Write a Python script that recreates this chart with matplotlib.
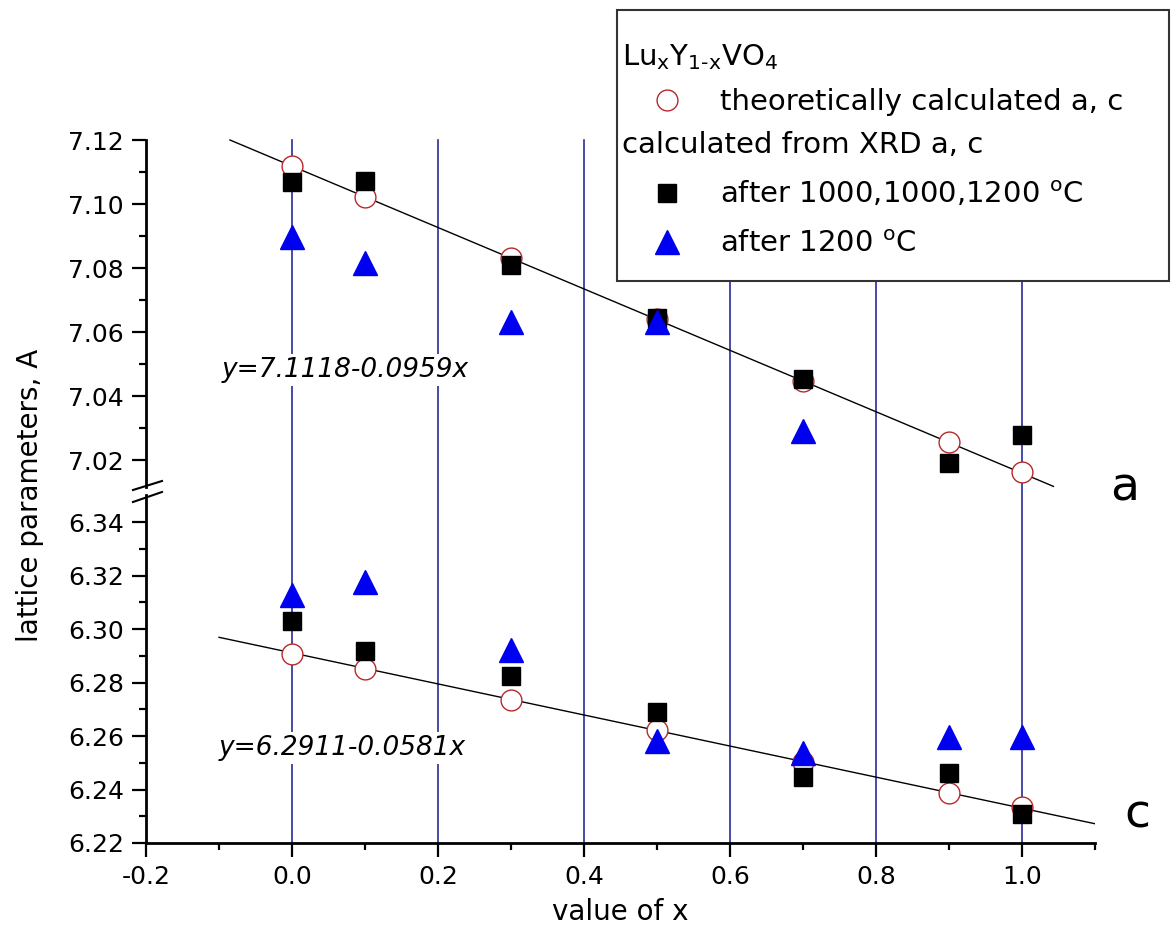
import numpy as np
import matplotlib
matplotlib.use("Agg")
import matplotlib.pyplot as plt
from matplotlib.patches import Rectangle

#DATA

x_vals = [0.0, 0.1, 0.3, 0.5, 0.7, 0.9, 1.0]
x_tri_a = [0.0, 0.1, 0.3, 0.5, 0.7]

# lattice parameter a
a_theory = [7.1118, 7.1022, 7.0832, 7.0640, 7.0448, 7.0258, 7.0164]
a_xrd_1 = [7.1070, 7.1073, 7.0809, 7.0645, 7.0452, 7.0192, 7.0278]
a_xrd_2 = [7.0896, 7.0815, 7.0630, 7.0632, 7.0290]

# lattice parameter c
c_theory = [6.2907, 6.2849, 6.2735, 6.2624, 6.2504, 6.2388, 6.2336]
c_xrd_1 = [6.3030, 6.2919, 6.2824, 6.2690, 6.2446, 6.2461, 6.2308]
c_xrd_2 = [6.3128, 6.3175, 6.2921, 6.2582, 6.2538, 6.2597, 6.2596]

# linear fits (end points)
fit_a_x = [-0.085, 1.043]
fit_a_y = [7.1200, 7.0118]
fit_c_x = [-0.1, 1.1]
fit_c_y = [6.2969, 6.2272]

grid_x = [0.0, 0.2, 0.4, 0.6, 0.8, 1.0]

eq_a = "y=7.1118-0.0959x"
eq_c = "y=6.2911-0.0581x"

#STYLE

plt.rcParams['font.family'] = ['DejaVu Sans']
plt.rcParams['mathtext.default'] = 'regular'

W, H = 1171, 941
fig = plt.figure(figsize=(W / 100, H / 100), dpi=100)

x0, x1 = 146, 1095
ax_hi = fig.add_axes([x0 / W, 1 - 487 / H, (x1 - x0) / W, (487 - 140) / H])
ax_lo = fig.add_axes([x0 / W, 1 - 843 / H, (x1 - x0) / W, (843 - 495) / H])

circ_kw = dict(ls='none', marker='o', ms=15, mfc='white', mec='#b8282c', mew=1.0, zorder=4)
sq_kw = dict(ls='none', marker='s', ms=13.5, mfc='black', mec='black', zorder=5)
tri_kw = dict(ls='none', marker='^', ms=17, mfc='#0000f0', mec='#0000f0', zorder=6)
grid_col = '#2a2a9a'

for ax in (ax_hi, ax_lo):
    ax.set_xlim(-0.2, 1.1)
    for s in ('top', 'right'):
        ax.spines[s].set_visible(False)
    ax.spines['left'].set_linewidth(2.0)
    ax.spines['bottom'].set_linewidth(2.0)
    ax.set_xticks(np.arange(-0.2, 1.11, 0.2))
    ax.set_xticks(np.arange(-0.1, 1.11, 0.2), minor=True)
    ax.tick_params(which='major', direction='out', length=10, width=1.6, labelsize=18, pad=6)
    ax.tick_params(which='minor', direction='out', length=5, width=1.6)

# upper part (a)
ax_hi.set_ylim(7.0116, 7.12)
ax_hi.spines['bottom'].set_visible(False)
ax_hi.tick_params(axis='x', which='both', bottom=False, labelbottom=False)
ax_hi.set_yticks(np.arange(7.02, 7.121, 0.02))
ax_hi.set_yticks(np.arange(7.03, 7.121, 0.02), minor=True)
ax_hi.yaxis.set_major_formatter(plt.FormatStrFormatter('%.2f'))
for gx in grid_x:
    ax_hi.axvline(gx, ymin=-0.025, ymax=1, color=grid_col, lw=1.2, zorder=1, clip_on=False)
ax_hi.plot(fit_a_x, fit_a_y, color='black', lw=1.0, zorder=3, clip_on=False)
ax_hi.plot(x_vals, a_theory, **circ_kw)
ax_hi.plot(x_vals, a_xrd_1, **sq_kw)
ax_hi.plot(x_tri_a, a_xrd_2, **tri_kw)
ax_hi.text(-0.096, 7.0481, eq_a, style='italic', fontsize=19, ha='left', va='center',
           zorder=2, bbox=dict(fc='white', ec='none', pad=2))

# lower part (c)
ax_lo.set_ylim(6.22, 6.3501)
ax_lo.set_yticks(np.arange(6.22, 6.341, 0.02))
ax_lo.set_yticks(np.arange(6.23, 6.341, 0.02), minor=True)
ax_lo.yaxis.set_major_formatter(plt.FormatStrFormatter('%.2f'))
ax_lo.xaxis.set_major_formatter(plt.FormatStrFormatter('%.1f'))
for gx in grid_x:
    ax_lo.axvline(gx, color=grid_col, lw=1.2, zorder=1)
ax_lo.plot(fit_c_x, fit_c_y, color='black', lw=1.0, zorder=3)
ax_lo.plot(x_vals, c_theory, **circ_kw)
ax_lo.plot(x_vals, c_xrd_1, **sq_kw)
ax_lo.plot(x_vals, c_xrd_2, **tri_kw)
ax_lo.text(-0.1, 6.2555, eq_c, style='italic', fontsize=19, ha='left', va='center',
           zorder=2, bbox=dict(fc='white', ec='none', pad=2))

#LABELS, LEGEND, BREAK (pixel overlay)

ax_px = fig.add_axes([0, 0, 1, 1])
ax_px.set_xlim(0, W)
ax_px.set_ylim(H, 0)
ax_px.axis('off')
ax_px.set_zorder(5)

ax_px.text(30, 495, 'lattice parameters, A', rotation=90, fontsize=20, ha='center', va='center')
ax_px.text(620, 912, 'value of x', fontsize=20, ha='center', va='center')
ax_px.text(1125, 488, 'a', fontsize=34, ha='center', va='center')
ax_px.text(1137, 815, 'c', fontsize=34, ha='center', va='center')

# axis break marks
ax_px.plot([133, 162], [490, 481], color='black', lw=1.5)
ax_px.plot([133, 162], [502, 492], color='black', lw=1.5)

# legend box
ax_px.add_patch(Rectangle((617, 10), 552, 271, fc='white', ec='#333333', lw=1.5))
ax_px.text(622, 65, r'Lu$_{x}$Y$_{1\text{-}x}$VO$_{4}$', fontsize=21, ha='left', va='baseline')
ax_px.plot([667], [100], **circ_kw)
ax_px.text(720, 110, 'theoretically calculated a, c', fontsize=21, ha='left', va='baseline')
ax_px.text(622, 153, 'calculated from XRD a, c', fontsize=21, ha='left', va='baseline')
ax_px.plot([667], [193], **sq_kw)
ax_px.text(720, 203, r'after 1000,1000,1200 $^{o}$C', fontsize=21, ha='left', va='baseline')
ax_px.plot([667], [242], **tri_kw)
ax_px.text(720, 252, r'after 1200 $^{o}$C', fontsize=21, ha='left', va='baseline')

fig.savefig('out.png', dpi=100)
